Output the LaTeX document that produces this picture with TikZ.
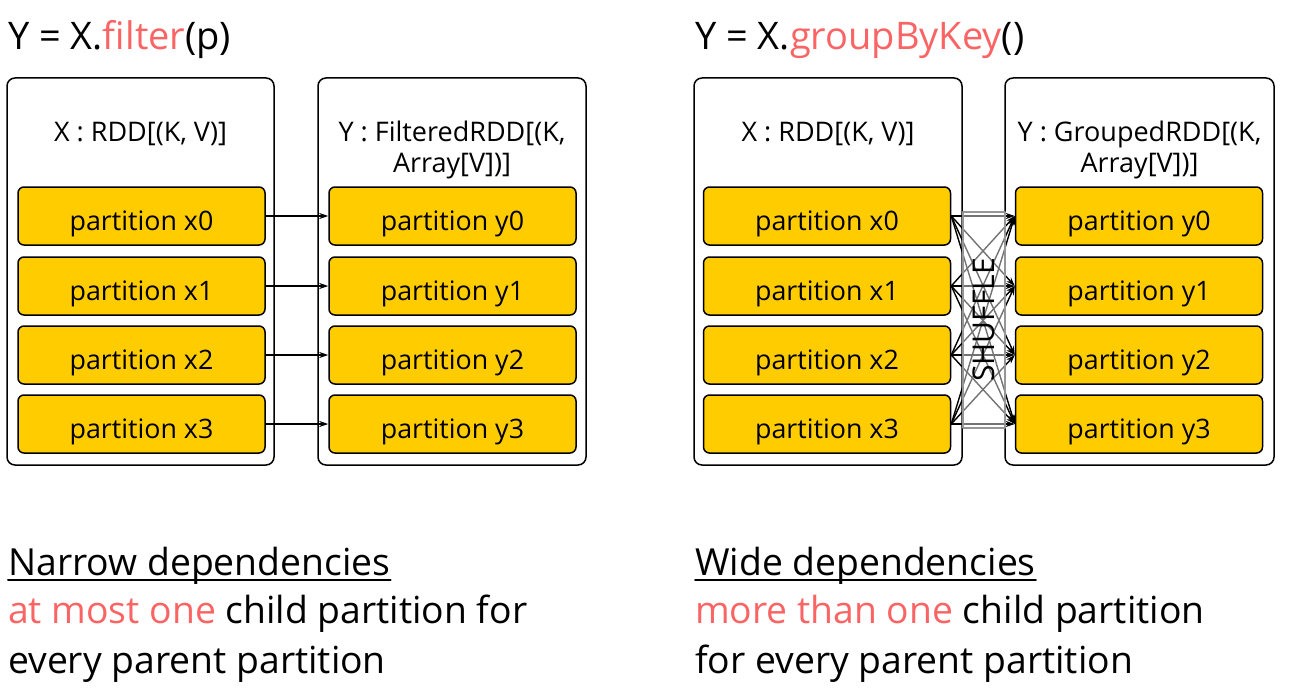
\documentclass[tikz,border=0pt]{standalone}
\usepackage{fontspec}
\setmainfont{Open Sans}
\usetikzlibrary{arrows.meta,positioning}
\definecolor{partyellow}{RGB}{255,204,0}
\definecolor{slidered}{RGB}{250,100,100}
\definecolor{shufflegray}{RGB}{150,150,150}

\tikzset{
  partbox/.style={draw=black,line width=1.5pt,fill=partyellow,rounded corners=6pt,
    minimum width=247pt,minimum height=58pt,inner sep=0pt,text height=29pt,text depth=0pt,
    font=\fontsize{26.8}{30}\selectfont},
  rddbox/.style={draw=black,line width=1.5pt,rounded corners=8pt,
    minimum height=387pt,inner sep=0pt},
  rddlabel/.style={anchor=base,inner sep=0pt,font=\fontsize{27}{30}\selectfont},
  titletext/.style={anchor=base west,inner sep=0pt,font=\fontsize{38}{42}\selectfont},
  bigtext/.style={anchor=base west,inner sep=0pt,font=\fontsize{37.3}{42}\selectfont}
}

\begin{document}
\begin{tikzpicture}[x=1pt,y=-1pt,line cap=round,line join=round,>={Stealth[length=9pt,width=6pt]}]
\useasboundingbox (0,0) rectangle (1292,698);

%narrow: filter
\node [titletext] (ftitle) at (8,50) {Y = X.\textcolor{slidered}{filter}(p)};
\node [rddbox,minimum width=267pt] (fx) at (140.5,271.5) {};
\node [rddbox,minimum width=268pt] (fy) at (452,271.5) {};
\node [rddlabel] (fxlab) at (140.5,141) {X : RDD[(K, V)]};
\node [rddlabel] (fylab) at (452,141) {Y : FilteredRDD[(K,};
\node [rddlabel] (fylab2) at (452,172) {Array[V])]};
\foreach \i/\y in {0/216,1/286,2/355,3/424}
{
\node [partbox] (fx\i) at (141.5,\y) {partition x\i};
\node [partbox] (fy\i) at (452.5,\y) {partition y\i};
\draw [->,line width=1.5pt] (fx\i.east) -- (fy\i.west);
}

%wide: groupByKey
\node [titletext] (gtitle) at (695,50) {Y = X.\textcolor{slidered}{groupByKey}()};
\node [rddbox,minimum width=268pt] (gx) at (828,271.5) {};
\node [rddbox,minimum width=269pt] (gy) at (1139.5,271.5) {};
\node [rddlabel] (gxlab) at (828,141) {X : RDD[(K, V)]};
\node [rddlabel] (gylab) at (1139.5,141) {Y : GroupedRDD[(K,};
\node [rddlabel] (gylab2) at (1139.5,172) {Array[V])]};
\foreach \i/\y in {0/216,1/286,2/355,3/424}
{
\node [partbox] (gx\i) at (827,\y) {partition x\i};
\node [partbox] (gy\i) at (1139,\y) {partition y\i};
}
\foreach \i in {0,...,3}
{\foreach \j in {0,...,3}
{
\draw [->,line width=1.4pt] (gx\i.east) -- (gy\j.west);
}}
\node [draw=shufflegray,line width=1.2pt,fill=white,fill opacity=0.45,minimum width=42pt,minimum height=216pt,inner sep=0pt] (shuf) at (984,320) {};
\node [rotate=90,font=\fontsize{30}{32}\selectfont] (shuflab) at (shuf.center) {SHUFFLE};

%bottom text
\node [bigtext] (nhead) at (8,575) {Narrow dependencies};
\draw [line width=2pt] (nhead.base west) ++(0,5) coordinate (nu1) -- ([yshift=-5pt]nhead.base east);
\node [bigtext] (nline1) at (8,623) {\textcolor{slidered}{at most one} child partition for};
\node [bigtext] (nline2) at (8,673) {every parent partition};

\node [bigtext] (whead) at (695,575) {Wide dependencies};
\draw [line width=2pt] (whead.base west) ++(0,5) coordinate (wu1) -- ([yshift=-5pt]whead.base east);
\node [bigtext] (wline1) at (695,623) {\textcolor{slidered}{more than one} child partition};
\node [bigtext] (wline2) at (695,673) {for every parent partition};
\end{tikzpicture}
\end{document}
